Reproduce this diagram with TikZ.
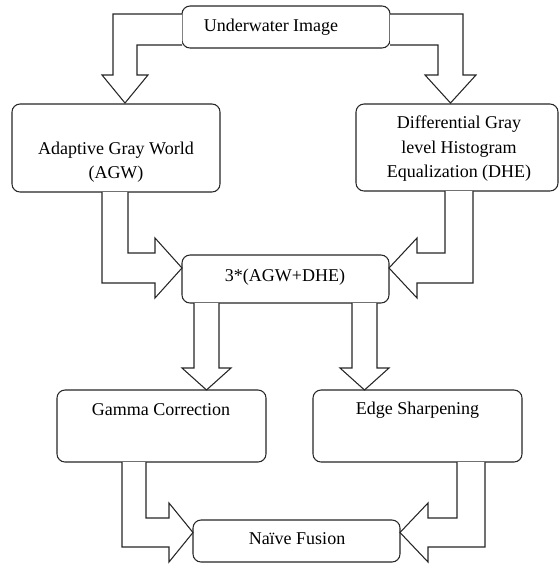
\documentclass[tikz,border=0pt]{standalone}
\usepackage{fontspec}
\setmainfont{Liberation Serif}
\begin{document}
\begin{tikzpicture}[x=0.75pt,y=-0.75pt,
  box/.style={draw=black!85,line width=0.8pt,rounded corners=6pt,inner sep=0pt,outer sep=0pt,fill=white},
  txt/.style={inner sep=0pt,font=\fontsize{13.5}{18.4}\selectfont,align=center},
  blockarrow/.style={draw=black!85,line width=0.8pt,fill=white,line join=miter}]
\useasboundingbox (0,0) rectangle (560,565);
% boxes
\node[box,minimum width=156pt,minimum height=31.5pt] (top) at (286,27) {};
\node[box,minimum width=156pt,minimum height=66pt] (agw) at (116,148) {};
\node[box,minimum width=151.5pt,minimum height=65.25pt] (dhe) at (457,147.5) {};
\node[box,minimum width=155.25pt,minimum height=36pt] (mid) at (285.5,279) {};
\node[box,minimum width=156.75pt,minimum height=54pt] (gamma) at (161.5,426) {};
\node[box,minimum width=156.75pt,minimum height=54pt] (edge) at (417.5,426) {};
\node[box,minimum width=155.25pt,minimum height=31.5pt] (naive) at (296.5,541) {};
% texts
\node[txt] (ttop) at (271,27) {Underwater Image};
\node[txt] (tagw) at (116,162) {Adaptive Gray World\\(AGW)};
\node[txt] (tdhe) at (459,149) {Differential Gray\\level Histogram\\Equalization (DHE)};
\node[txt] (tmid) at (285,277) {3*(AGW+DHE)};
\node[txt] (tgamma) at (161,410) {Gamma Correction};
\node[txt] (tedge) at (417.5,410) {Edge Sharpening};
\node[txt] (tnaive) at (297,539) {Naïve Fusion};
% block arrows
\draw[blockarrow] (top.west |- 0,14) -- (113,14) -- (113,75) -- (102,75) -- (125,103) -- (148,75) -- (137,75) -- (137,45) -- (top.west |- 0,45);
\draw[blockarrow] (top.east |- 0,14) -- (463,14) -- (463,75) -- (476,75) -- (450.5,103) -- (425,75) -- (438,75) -- (438,45) -- (top.east |- 0,45);
\draw[blockarrow] (agw.south -| 102,0) -- (102,283) -- (155,283) -- (155,298) -- (mid.west |- 0,268) -- (155,238) -- (155,253) -- (128,253) -- (agw.south -| 128,0);
\draw[blockarrow] (dhe.south -| 473,0) -- (473,283) -- (417,283) -- (417,298) -- (mid.east |- 0,268) -- (417,238) -- (417,253) -- (445,253) -- (dhe.south -| 445,0);
\draw[blockarrow] (mid.south -| 194,0) -- (194,368) -- (182,368) -- (gamma.north -| 206.5,0) -- (231,368) -- (219,368) -- (mid.south -| 219,0);
\draw[blockarrow] (mid.south -| 352,0) -- (352,368) -- (340,368) -- (edge.north -| 364.5,0) -- (389,368) -- (377,368) -- (mid.south -| 377,0);
\draw[blockarrow] (gamma.south -| 122,0) -- (122,547) -- (169,547) -- (169,562) -- (naive.west |- 0,532.5) -- (169,503) -- (169,518) -- (146,518) -- (gamma.south -| 146,0);
\draw[blockarrow] (edge.south -| 485,0) -- (485,547) -- (428,547) -- (428,562) -- (naive.east |- 0,532.5) -- (428,503) -- (428,518) -- (457,518) -- (edge.south -| 457,0);
\end{tikzpicture}
\end{document}
